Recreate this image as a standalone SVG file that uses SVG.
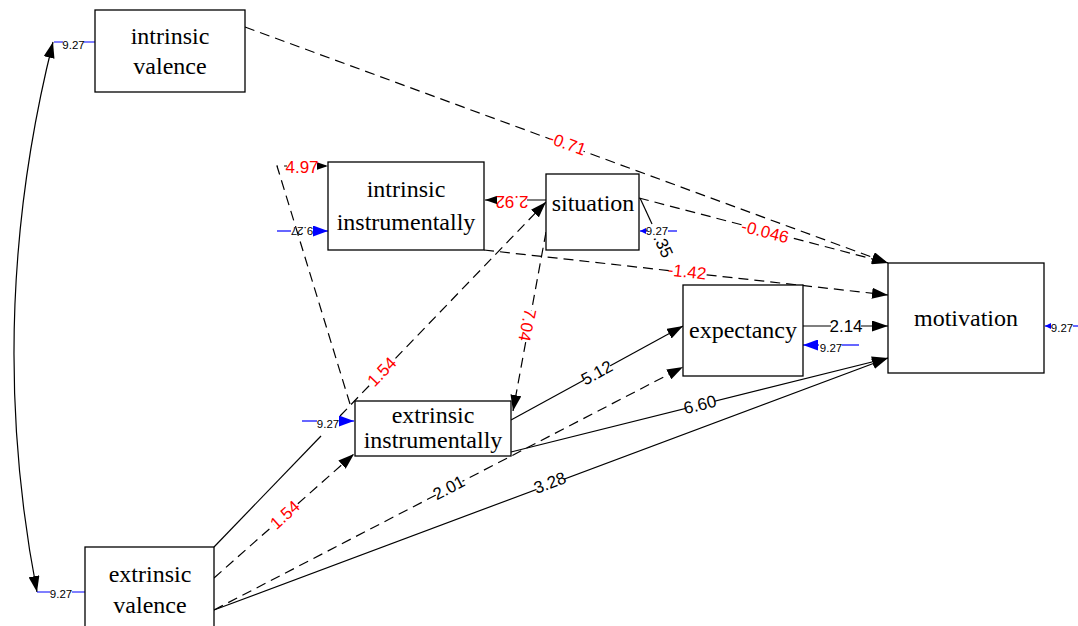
<svg xmlns="http://www.w3.org/2000/svg" width="1078" height="626" viewBox="0 0 1078 626">
<style>
.box{fill:#fff;stroke:#000;stroke-width:1.3}
.nt{font-family:"Liberation Serif","Times New Roman",serif;font-size:24px;fill:#000;text-anchor:middle}
.ln{fill:none;stroke:#000;stroke-width:1.2}
.dash{stroke-dasharray:10 6}
.lbl{font-family:"Liberation Sans",Arial,sans-serif;font-size:17px;text-anchor:middle;dominant-baseline:central}
.bg{fill:#fff}
.red{fill:#f00}
.blk{fill:#000}
.err{fill:none;stroke:#00f;stroke-width:1.2}
.et{font-family:"Liberation Sans",Arial,sans-serif;font-size:11.5px;fill:#000;text-anchor:middle;dominant-baseline:central}
</style>
<defs>
<marker id="ah" viewBox="0 0 16 11" refX="16" refY="5.5" markerWidth="16" markerHeight="11" markerUnits="userSpaceOnUse" orient="auto"><path d="M0,0 L16,5.5 L0,11 z" fill="#000"/></marker>
<marker id="ah2" viewBox="0 0 16 11" refX="16" refY="5.5" markerWidth="16" markerHeight="11" markerUnits="userSpaceOnUse" orient="auto-start-reverse"><path d="M0,0 L16,5.5 L0,11 z" fill="#000"/></marker>
<marker id="bb" viewBox="0 0 15 11" refX="15" refY="5.5" markerWidth="15" markerHeight="11" markerUnits="userSpaceOnUse" orient="auto"><path d="M0,0 L15,5.5 L0,11 z" fill="#00f"/></marker>
<marker id="bs" viewBox="0 0 6 6" refX="6" refY="3" markerWidth="6" markerHeight="6" markerUnits="userSpaceOnUse" orient="auto"><path d="M0,0 L6,3 L0,6 z" fill="#00f"/></marker>
</defs>

<g id="connectors">
<path class="ln" d="M53,42 Q-16,318 37,592" marker-start="url(#ah2)" marker-end="url(#ah2)"/>
<path class="ln dash" d="M245,27 L888,263" marker-end="url(#ah)"/>
<path class="ln dash" d="M350,404 L277,166 L328,166" marker-end="url(#ah)"/>
<path class="ln" d="M546,200 L485,200" marker-end="url(#ah)"/>
<path class="ln dash" d="M639,198 L888,263" marker-end="url(#ah)"/>
<path class="ln dash" d="M484,250 L888,295" marker-end="url(#ah)"/>
<path class="ln" d="M214,547 L321,436"/>
<path class="ln dash" d="M340,416 L546,202" marker-end="url(#ah)"/>
<path class="ln dash" d="M546,232 L513,411" marker-end="url(#ah)"/>
<path class="ln" d="M511,420 L683,326" marker-end="url(#ah)"/>
<path class="ln" d="M803,326 L888,326" marker-end="url(#ah)"/>
<path class="ln" d="M511,452 L888,358" marker-end="url(#ah)"/>
<path class="ln dash" d="M214,578 L354,454" marker-end="url(#ah)"/>
<path class="ln dash" d="M214,610 L683,367" marker-end="url(#ah)"/>
<path class="ln" d="M214,610 L888,358" marker-end="url(#ah)"/>
<path class="ln" d="M640,198 L652,224"/>

<g transform="translate(567,144) rotate(20.2)"><rect class="bg" x="-18" y="-7" width="36" height="14"/><text class="lbl red">-0.71</text></g>
<g transform="translate(302,167)"><rect class="bg" x="-15" y="-7" width="30" height="14"/><text class="lbl red">4.97</text></g>
<g transform="translate(512,201) rotate(180)"><rect class="bg" x="-15" y="-7" width="30" height="14"/><text class="lbl red">2.92</text></g>
<g transform="translate(765,232) rotate(14.6)"><rect class="bg" x="-23" y="-7" width="46" height="14"/><text class="lbl red">-0.046</text></g>
<g transform="translate(687,272) rotate(6.4)"><rect class="bg" x="-18" y="-7" width="36" height="14"/><text class="lbl red">-1.42</text></g>
<g transform="translate(382,372) rotate(-46)"><rect class="bg" x="-15" y="-7" width="30" height="14"/><text class="lbl red">1.54</text></g>
<g transform="translate(527,325) rotate(101.7)"><rect class="bg" x="-15" y="-7" width="30" height="14"/><text class="lbl red">7.04</text></g>
<g transform="translate(597,373) rotate(-28.8)"><rect class="bg" x="-15" y="-7" width="30" height="14"/><text class="lbl blk">5.12</text></g>
<g transform="translate(846,326)"><rect class="bg" x="-15" y="-7" width="30" height="14"/><text class="lbl blk">2.14</text></g>
<g transform="translate(700,405) rotate(-14)"><rect class="bg" x="-15" y="-7" width="30" height="14"/><text class="lbl blk">6.60</text></g>
<g transform="translate(449,488) rotate(-27.4)"><rect class="bg" x="-15" y="-7" width="30" height="14"/><text class="lbl blk">2.01</text></g>
<g transform="translate(550,483) rotate(-20.5)"><rect class="bg" x="-15" y="-7" width="30" height="14"/><text class="lbl blk">3.28</text></g>
<g transform="translate(285,515) rotate(-42)"><rect class="bg" x="-15" y="-7" width="30" height="14"/><text class="lbl red">1.54</text></g>
<g transform="translate(663,246) rotate(65)"><rect class="bg" x="-10" y="-7" width="20" height="14"/><text class="lbl blk">.35</text></g>

<!-- error terms -->
<path class="err" d="M54,42 L63,42 M84,42 L95,42"/>
<text class="et" x="73.5" y="45">9.27</text>
<path class="err" d="M37,592 L50,592 M72,592 L85,592"/>
<text class="et" x="61" y="594">9.27</text>
<path class="err" d="M277,231 L291,231"/>
<path class="err" d="M313,231 L328,231" marker-end="url(#bb)"/>
<text class="et" transform="translate(302,231) rotate(180)">9.27</text>
<path class="err" d="M677,231 L668,231"/>
<path class="err" d="M647,231 L640,231" marker-end="url(#bs)"/>
<text class="et" x="657" y="231">9.27</text>
<path class="err" d="M302,421 L317,421"/>
<path class="err" d="M339,421 L354,421" marker-end="url(#bb)"/>
<text class="et" x="328" y="424">9.27</text>
<path class="err" d="M859,345 L842,345"/>
<path class="err" d="M819,345 L803,345" marker-end="url(#bb)"/>
<text class="et" x="831" y="348">9.27</text>
<path class="err" d="M1078,326 L1073,326"/>
<path class="err" d="M1051,326 L1045,326" marker-end="url(#bs)"/>
<text class="et" x="1062" y="328">9.27</text>
</g>

<g id="intrinsic-valence">
<rect class="box" x="95" y="10" width="150" height="82"/>
<text class="nt" x="170" y="43.5">intrinsic</text>
<text class="nt" x="170" y="74">valence</text>
</g>
<g id="intrinsic-instrumentally">
<rect class="box" x="328" y="162" width="156" height="88"/>
<text class="nt" x="406" y="197">intrinsic</text>
<text class="nt" x="406" y="230">instrumentally</text>
</g>
<g id="situation">
<rect class="box" x="546" y="174" width="93" height="76"/>
<text class="nt" x="593" y="211">situation</text>
</g>
<g id="extrinsic-instrumentally">
<rect class="box" x="355" y="401" width="156" height="55"/>
<text class="nt" x="433" y="423">extrinsic</text>
<text class="nt" x="433" y="448">instrumentally</text>
</g>
<g id="expectancy">
<rect class="box" x="683" y="285" width="120" height="91"/>
<text class="nt" x="743" y="338">expectancy</text>
</g>
<g id="motivation">
<rect class="box" x="888" y="263" width="156" height="110"/>
<text class="nt" x="966" y="326">motivation</text>
</g>
<g id="extrinsic-valence">
<rect class="box" x="85" y="547" width="129" height="90"/>
<text class="nt" x="150" y="582">extrinsic</text>
<text class="nt" x="150" y="613">valence</text>
</g>
</svg>
